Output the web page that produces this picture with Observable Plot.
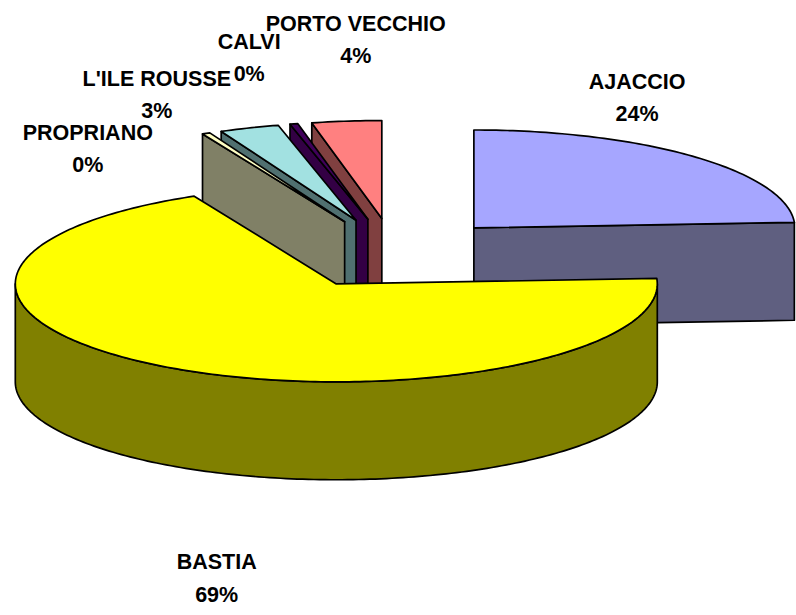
<!DOCTYPE html>
<html>
<head>
<meta charset="utf-8">
<script src="https://cdn.jsdelivr.net/npm/d3@7"></script>
<script src="https://cdn.jsdelivr.net/npm/@observablehq/plot@0.6"></script>
<style>
  html, body { margin: 0; padding: 0; background: #ffffff; }
  #chart { width: 796px; height: 615px; }
</style>
</head>
<body>
<div id="chart"></div>
<script>
// ---------- data ----------
const cities = ["AJACCIO", "BASTIA", "PROPRIANO", "L'ILE ROUSSE", "CALVI", "PORTO VECCHIO"];
const shares = [24.1, 68.6, 0.4, 3.0, 0.4, 3.5];

// ---------- palette (top face / side face) ----------
const topColors  = ["#A6A6FF", "#FFFF00", "#FFFFC4", "#A2E1E1", "#40005A", "#FF8080"];
const sideColors = ["#5F5F80", "#808000", "#808066", "#507070", "#330044", "#804040"];

// ---------- 3-D pie geometry (units of the pie radius) ----------
const W = 796, H = 615;
const CX = 394, CY = 253, R = 321;          // frame placement of the pie centre / radius (px)
const TILT = 0.305;                          // vertical squash of the ellipse
const DEPTH = 0.305;                         // slab thickness
const EXPLODE = 0.36;                        // explosion distance
const STEP = 1;                              // arc sampling (deg)
const rad = d => d * Math.PI / 180;

const total = d3.sum(shares);
let acc = 0;
const slices = cities.map((name, i) => {
  const a0 = acc / total * 360;
  acc += shares[i];
  const a1 = acc / total * 360;
  const mid = (a0 + a1) / 2;
  return {
    name, i, a0, a1, mid,
    cx: EXPLODE * Math.sin(rad(mid)),
    cy: EXPLODE * TILT * Math.cos(rad(mid)),
    pct: Math.round(shares[i] * 100 / total)
  };
});

function rim(s, deg, drop = 0) {
  return {x: s.cx + Math.sin(rad(deg)), y: s.cy + TILT * Math.cos(rad(deg)) - drop};
}
function arc(s, from, to, drop = 0) {
  const n = Math.max(2, Math.ceil(Math.abs(to - from) / STEP) + 1);
  return d3.range(n).map(k => rim(s, from + (to - from) * k / (n - 1), drop));
}
function poly(pts, fill) {
  return Plot.line([...pts, pts[0]], {
    x: "x", y: "y", fill, stroke: "#000000", strokeWidth: 1.7,
    strokeLinejoin: "round", strokeLinecap: "round"
  });
}

// painter's order: back slices first
const marks = [];
const order = slices.slice().sort((a, b) => b.cy - a.cy);
for (const s of order) {
  const apex = {x: s.cx, y: s.cy};
  const apexLow = {x: s.cx, y: s.cy - DEPTH};
  const side = sideColors[s.i];
  // outer wall (front half only)
  const b0 = Math.max(s.a0, 90), b1 = Math.min(s.a1, 270);
  if (b1 > b0) marks.push(poly([...arc(s, b0, b1), ...arc(s, b1, b0, DEPTH)], side));
  // radial cut faces turned toward the viewer
  if (Math.sin(rad(s.a0)) < -1e-9) marks.push(poly([apex, rim(s, s.a0), rim(s, s.a0, DEPTH), apexLow], side));
  if (Math.sin(rad(s.a1)) > 1e-9) marks.push(poly([apex, rim(s, s.a1), rim(s, s.a1, DEPTH), apexLow], side));
  // top face
  marks.push(poly([apex, ...arc(s, s.a0, s.a1)], topColors[s.i]));
}

// ---------- labels: on an ellipse round the centre, crowded back ones fanned apart ----------
const LX = 1.1, LY = 0.68, GAP = 18, PAD = 0.11;
const labels = slices.map(s => ({...s, phi: s.mid}));
const back = labels.filter(d => d.mid > 270).sort((a, b) => b.mid - a.mid);
for (let k = 1; k < back.length; k++) back[k].phi = Math.min(back[k].mid, back[k - 1].phi - GAP);
for (const d of labels) {
  const c = Math.cos(rad(d.phi));
  d.lx = LX * Math.sin(rad(d.phi));
  d.ly = LY * c - (c < 0 ? DEPTH + PAD : 0);
  d.text = `${d.name}\n${d.pct}%`;
}
marks.push(Plot.text(labels, {
  x: "lx", y: "ly", text: "text",
  fontSize: 21.5, fontWeight: "bold", fontFamily: "'Liberation Sans', Arial, sans-serif",
  lineHeight: 1.5, fill: "#000000", textAnchor: "middle"
}));

const chart = Plot.plot({
  width: W, height: H,
  margin: 0,
  x: {domain: [-CX / R, (W - CX) / R], axis: null},
  y: {domain: [-(H - CY) / R, CY / R], axis: null},
  style: {background: "#ffffff"},
  marks
});
document.getElementById("chart").append(chart);
</script>
</body>
</html>
